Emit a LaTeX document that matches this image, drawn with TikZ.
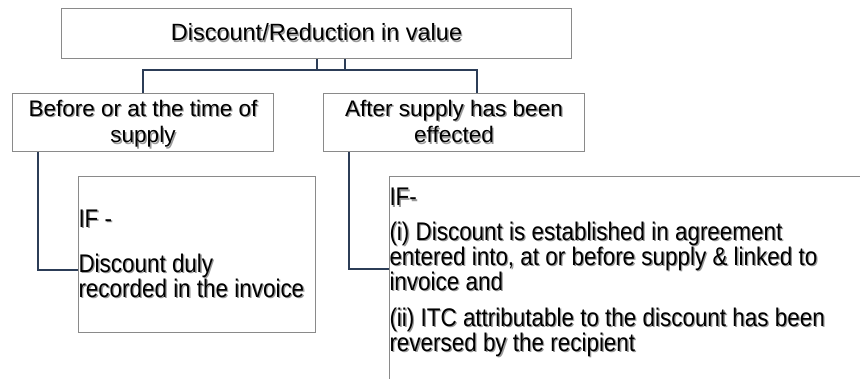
\documentclass[tikz,border=0pt]{standalone}
\usepackage{fontspec}
\setmainfont{Liberation Sans}
\newfontfamily\narrowfont[FakeStretch=0.88]{Liberation Sans}
\definecolor{connc}{HTML}{2C3D57}
\definecolor{boxc}{HTML}{8A8A8A}
\definecolor{shadec}{HTML}{9A9A9A}
\newcommand{\shtext}[1]{\mbox{\rlap{\hspace{1.3pt}\raisebox{-1.3pt}{\textcolor{shadec}{#1}}}#1}}
\tikzset{
  box/.style={draw=boxc, line width=1pt, inner sep=0pt, anchor=north west, fill=white},
  conn/.style={draw=connc, line width=2pt, line join=miter}
}
\begin{document}
\begin{tikzpicture}[x=1pt,y=-1pt]
\useasboundingbox (0,0) rectangle (860,379);

\node[box] (top) at (61,8) {\parbox[c][50pt][t]{510pt}{\centering\fontsize{23.5pt}{26pt}\selectfont\lineskiplimit=-30pt \rule{0pt}{32.5pt}\shtext{Discount/Reduction in value}\par}};

\node[box] (before) at (12,93) {\parbox[c][58pt][t]{261pt}{\centering\fontsize{22.5pt}{26.5pt}\selectfont\lineskiplimit=-30pt \rule{0pt}{23pt}\shtext{Before or at the time of}\\\shtext{supply}\par}};

\node[box] (after) at (323,93) {\parbox[c][58pt][t]{261pt}{\centering\fontsize{22.5pt}{26.5pt}\selectfont\lineskiplimit=-30pt \rule{0pt}{23pt}\shtext{After supply has been}\\\shtext{effected}\par}};

\node[box] (ifl) at (78,176) {\parbox[c][156pt][t]{237pt}{\narrowfont\fontsize{25.5pt}{25pt}\selectfont\lineskiplimit=-30pt\raggedright \rule{0pt}{50.7pt}\shtext{IF -}\par\vspace{20pt}\shtext{Discount duly}\\\shtext{recorded in the invoice}\par}};

\node[box] (ifr) at (389,176) {\parbox[c][250pt][t]{520pt}{\narrowfont\fontsize{25.5pt}{25pt}\selectfont\lineskiplimit=-30pt\raggedright \rule{0pt}{29.5pt}\shtext{IF-}\par\vspace{9.5pt}\shtext{(i) Discount is established in agreement}\\\shtext{entered into, at or before supply \& linked to}\\\shtext{invoice and}\par\vspace{11pt}\shtext{(ii) ITC attributable to the discount has been}\\\shtext{reversed by the recipient}\par}};

\draw[conn] ([xshift=28pt]top.south) -- ++(0,11) -| (before.north);
\draw[conn] (top.south) -- ++(0,11) -| ([xshift=22.5pt]after.north);
\draw[conn] ([xshift=26pt]before.south west) |- ([yshift=-94pt]ifl.north west);
\draw[conn] ([xshift=26pt]after.south west) |- ([yshift=-93pt]ifr.north west);
\end{tikzpicture}
\end{document}
